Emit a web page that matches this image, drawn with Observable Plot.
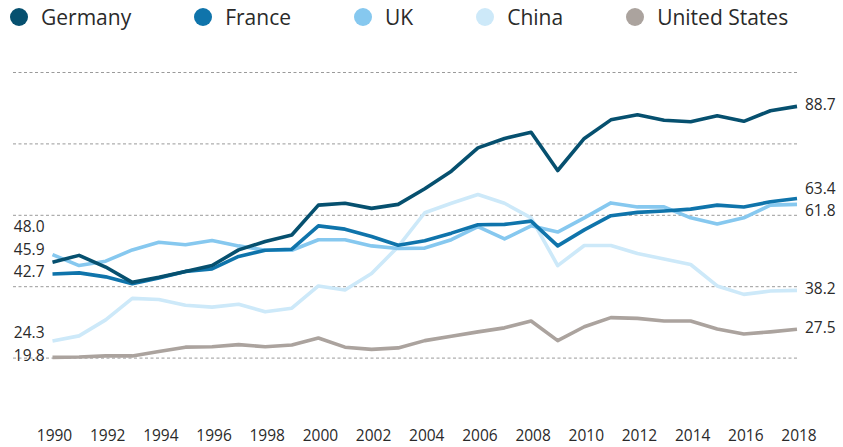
<!DOCTYPE html>
<html>
<head>
<meta charset="utf-8">
<script src="https://cdn.jsdelivr.net/npm/d3@7"></script>
<script src="https://cdn.jsdelivr.net/npm/@observablehq/plot@0.6"></script>
<style>
  html, body { margin: 0; padding: 0; background: #fff; }
  body { width: 843px; font-family: 'Open Sans', sans-serif; color: #2a2a2a; }
  #legend { display: flex; align-items: flex-start; height: 38px; padding-left: 10px; gap: 63px; box-sizing: border-box; }
  .item { display: flex; align-items: center; height: 34px; gap: 13px; font-size: 21px; }
  .dot { width: 18px; height: 18px; border-radius: 50%; }
</style>
</head>
<body>
<div id="legend"></div>
<div id="chart"></div>
<script>
const years = [1990,1991,1992,1993,1994,1995,1996,1997,1998,1999,2000,2001,2002,2003,2004,2005,2006,2007,2008,2009,2010,2011,2012,2013,2014,2015,2016,2017,2018];
const countries = ["Germany", "France", "UK", "China", "United States"];
const colors = ["#06506f", "#0f74ab", "#86c8ef", "#cde9f9", "#aba39e"];

const germany = [45.9,47.8,44.6,40.4,41.8,43.4,45.0,49.3,51.6,53.4, 61.6,62.1,60.7,61.8,66.1,70.9,77.3,79.9,81.6,71.1, 79.9,85.0,86.4,84.9,84.5,86.1,84.6,87.5,88.7];
const france  = [42.7,43.0,41.9,40.0,41.6,43.4,44.1,47.5,49.2,49.5, 55.9,55.0,53.0,50.6,51.8,53.9,56.2,56.3,57.2,50.4, 54.8,58.7,59.6,60.0,60.5,61.6,61.1,62.5,63.4];
const uk      = [48.0,45.0,46.2,49.3,51.4,50.7,51.9,50.4,49.2,49.2, 52.1,52.1,50.4,49.7,49.8,52.1,55.7,52.3,55.9,54.2, 58.1,62.2,61.1,61.1,58.1,56.4,58.1,61.6,61.8];
const china   = [24.3,25.7,30.1,36.0,35.7,34.1,33.6,34.4,32.3,33.3, 39.4,38.3,42.8,50.2,59.5,62.1,64.5,62.1,58.1,45.0, 50.5,50.5,48.3,46.8,45.3,39.4,37.1,38.0,38.2];
const us      = [19.8,19.9,20.2,20.2,21.4,22.6,22.7,23.3,22.7,23.2, 25.1,22.6,22.0,22.4,24.4,25.6,26.8,27.9,29.8,24.4, 28.2,30.7,30.5,29.8,29.8,27.6,26.2,26.8,27.5];

const gridValues = [19.6, 39.2, 58.8, 78.4, 98];
const xTicks = [1990,1992,1994,1996,1998,2000,2002,2004,2006,2008,2010,2012,2014,2016,2018];
const yDomain = [0, 98];

const seriesValues = {"Germany": germany, "France": france, "UK": uk, "China": china, "United States": us};
// draw order: bottom to top
const drawOrder = ["United States", "China", "UK", "France", "Germany"];
const rows = drawOrder.flatMap(c => years.map((yr, i) => ({country: c, year: yr, value: seriesValues[c][i]})));

// legend
const legend = document.getElementById("legend");
countries.forEach((c, i) => {
  const it = document.createElement("div");
  it.className = "item";
  const d = document.createElement("span");
  d.className = "dot";
  d.style.background = colors[i];
  const t = document.createElement("span");
  t.textContent = c;
  it.append(d, t);
  legend.append(it);
});

const W = 843, H = 409;
const common = {
  width: W, height: H,
  marginLeft: 52, marginRight: 46.5, marginTop: 34, marginBottom: 18,
  x: {domain: [years[0], years[years.length - 1]], axis: null},
  y: {domain: yDomain, axis: null},
  color: {domain: countries, range: colors},
  style: {fontFamily: "'Open Sans', sans-serif", fontSize: "15.5px", color: "#2a2a2a", background: "#fff", overflow: "visible"}
};

// get the y scale
const probe = Plot.plot({...common, marks: [Plot.ruleY(gridValues)]});
const yScale = probe.scale("y");

function dodge(items, gap, anchor) {
  const sorted = items.slice().sort((a, b) => a.py - b.py);
  let clusters = sorted.map(it => ({members: [it]}));
  const place = cl => {
    const n = cl.members.length;
    let start;
    if (anchor === "bottom") start = cl.members[n - 1].py - (n - 1) * gap;
    else start = d3.mean(cl.members, m => m.py) - (n - 1) * gap / 2;
    cl.pos = cl.members.map((m, i) => start + i * gap);
  };
  clusters.forEach(place);
  let changed = true;
  while (changed) {
    changed = false;
    for (let i = 0; i < clusters.length - 1; i++) {
      const a = clusters[i], b = clusters[i + 1];
      if (b.pos[0] - a.pos[a.pos.length - 1] < gap) {
        const merged = {members: a.members.concat(b.members)};
        place(merged);
        clusters.splice(i, 2, merged);
        changed = true;
        break;
      }
    }
  }
  clusters.forEach(cl => cl.members.forEach((m, i) => m.ly = yScale.invert(cl.pos[i])));
  return items;
}

const leftLabels = dodge(countries.map(c => ({
  country: c, year: years[0], value: seriesValues[c][0],
  label: seriesValues[c][0].toFixed(1), py: yScale.apply(seriesValues[c][0])
})), 22.5, "bottom");

const last = years.length - 1;
const rightLabels = dodge(countries.map(c => ({
  country: c, year: years[last], value: seriesValues[c][last],
  label: seriesValues[c][last].toFixed(1), py: yScale.apply(seriesValues[c][last])
})), 22.5, "middle");

const chart = Plot.plot({
  ...common,
  marks: [
    Plot.ruleY(gridValues, {stroke: "#9a9a9a", strokeWidth: 1, strokeDasharray: "3,2.5", insetLeft: -39, insetRight: -2.5}),
    Plot.line(rows, {x: "year", y: "value", z: "country", stroke: "country", strokeWidth: 3.6, strokeLinejoin: "round", strokeLinecap: "butt"}),
    Plot.text(leftLabels, {x: "year", y: "ly", text: "label", textAnchor: "end", dx: -8, dy: -1.6, fill: "#2a2a2a", fontSize: 15.5}),
    Plot.text(rightLabels, {x: "year", y: "ly", text: "label", textAnchor: "start", dx: 8, dy: -1.6, fill: "#2a2a2a", fontSize: 15.5}),
    Plot.axisX(xTicks, {tickSize: 0, tickPadding: 0, tickFormat: d => String(d), fontSize: 15.5, dx: 2, label: null})
  ]
});
document.getElementById("chart").append(chart);
</script>
</body>
</html>
